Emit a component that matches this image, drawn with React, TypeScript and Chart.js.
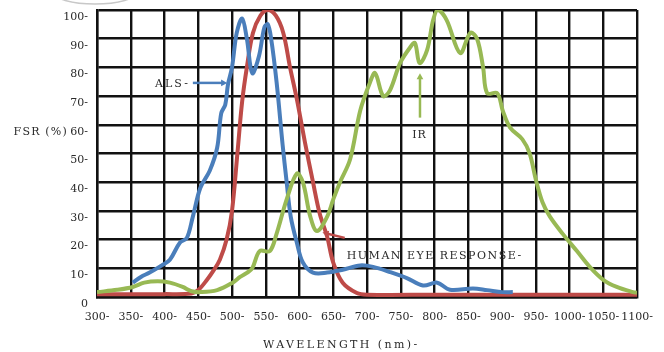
import React, { useEffect, useRef } from "react";
import { Chart, registerables } from "chart.js";

Chart.register(...registerables);

const xTickLabels = ["300-", "350-", "400-", "450-", "500-", "550-", "600-", "650-", "700-", "750-", "800-", "850-", "900-", "950-", "1000-", "1050-", "1100-"];
const yTickLabels = ["0", "10-", "20-", "30-", "40-", "50-", "60-", "70-", "80-", "90-", "100-"];

const alsWavelength = [353, 365, 378, 396, 408, 423, 433, 442, 453, 467, 478, 484, 490, 494, 500, 507, 515, 522, 530, 540, 548, 553, 558, 566, 575, 581, 587, 596, 605, 620, 641, 664, 690, 709, 734, 759, 783, 804, 823, 857, 878, 901, 916];
const alsValues = [5, 7, 8.5, 11, 13, 19, 20.5, 28, 38, 44, 52, 64, 67, 74, 80, 92, 97, 90, 78, 84, 94, 95, 90, 75, 53, 40, 28, 19, 12, 8.5, 8.5, 9.5, 11, 10.5, 8.7, 6.6, 4, 5, 2.5, 3, 2.4, 1.7, 1.7];

const eyeWavelength = [300, 350, 400, 440, 450, 463, 472, 482, 492, 500, 508, 515, 522, 531, 542, 553, 565, 576, 586, 596, 608, 620, 630, 641, 650, 664, 685, 700, 800, 900, 1000, 1100];
const eyeValues = [1, 1, 1, 1.2, 2.4, 6, 9, 13, 20, 30, 50, 68, 80, 92, 98, 100, 98, 92, 80, 69, 54, 40, 29, 21, 12, 5, 1.4, 0.8, 0.8, 0.8, 0.8, 0.8];

const irWavelength = [300, 330, 353, 370, 390, 408, 427, 440, 453, 478, 501, 512, 522, 530, 541, 556, 566, 581, 596, 605, 616, 626, 641, 650, 660, 675, 690, 704, 712, 724, 734, 749, 764, 771, 778, 789, 798, 805, 818, 838, 853, 863, 872, 878, 893, 901, 912, 930, 941, 950, 960, 971, 990, 1011, 1030, 1050, 1070, 1094, 1100];
const irValues = [1.7, 2.5, 3.5, 5, 5.5, 5, 3.5, 2, 1.7, 2.4, 5, 7, 8.4, 10, 16, 16, 22, 34, 43, 40, 28, 23, 28, 34, 40, 48, 65, 74.5, 78, 70, 72, 81.5, 87, 88.5, 81.5, 86, 96.5, 100, 96.5, 85, 92, 90, 80, 71, 71, 65, 59, 55, 50, 41, 33, 28, 22, 16, 10.5, 6, 3.5, 1.7, 1.5];

const FONT = "DejaVu Serif";
const TEXT = "#2a2a2a";

function toPoints(xs: number[], ys: number[]) {
  return xs.map((x, i) => ({ x, y: ys[i] }));
}

function arrow(ctx: CanvasRenderingContext2D, x1: number, y1: number, x2: number, y2: number, color: string) {
  const ang = Math.atan2(y2 - y1, x2 - x1);
  const head = 7;
  ctx.save();
  ctx.strokeStyle = color;
  ctx.fillStyle = color;
  ctx.lineWidth = 2.5;
  ctx.beginPath();
  ctx.moveTo(x1, y1);
  ctx.lineTo(x2 - Math.cos(ang) * head * 0.6, y2 - Math.sin(ang) * head * 0.6);
  ctx.stroke();
  ctx.beginPath();
  ctx.moveTo(x2, y2);
  ctx.lineTo(x2 - head * Math.cos(ang - 0.5), y2 - head * Math.sin(ang - 0.5));
  ctx.lineTo(x2 - head * Math.cos(ang + 0.5), y2 - head * Math.sin(ang + 0.5));
  ctx.closePath();
  ctx.fill();
  ctx.restore();
}

function text(ctx: CanvasRenderingContext2D, s: string, x: number, y: number, spacing: number, align: CanvasTextAlign = "left") {
  ctx.save();
  ctx.font = `11px "${FONT}"`;
  (ctx as any).letterSpacing = `${spacing}px`;
  ctx.fillStyle = TEXT;
  ctx.textAlign = align;
  ctx.textBaseline = "middle";
  ctx.fillText(s, x, y);
  ctx.restore();
}

const annotationPlugin = {
  id: "annotations",
  afterDraw(chart: any) {
    const ctx: CanvasRenderingContext2D = chart.ctx;
    const xs = chart.scales.x;
    const ys = chart.scales.y;
    const X = (v: number) => xs.getPixelForValue(v);
    const Y = (v: number) => ys.getPixelForValue(v);
    // faint rounded shape at top-left (scan artefact)
    ctx.save();
    ctx.strokeStyle = "#c8c8c8";
    ctx.lineWidth = 1.5;
    ctx.beginPath();
    ctx.ellipse(95, -8, 42, 12, 0, 0, Math.PI);
    ctx.stroke();
    ctx.restore();
    // ALS
    text(ctx, "ALS-", X(386), Y(74), 2);
    arrow(ctx, X(442), Y(74.6), X(493), Y(74.6), "#4a7ebb");
    // IR
    text(ctx, "IR", X(767), Y(56.4), 1);
    arrow(ctx, X(778.5), Y(62.5), X(778.5), Y(78), "#98b954");
    // Human eye response
    text(ctx, "HUMAN EYE RESPONSE-", X(670), Y(14.3), 1.5);
    arrow(ctx, X(667), Y(20.6), X(634), Y(22.5), "#be4b48");
    // axis titles
    text(ctx, "FSR (%)", xs.left - 29, Y(60) + 7, 1.2, "right");
    text(ctx, "WAVELENGTH (nm)-", X(546), 345, 2.4, "left");
  },
};

export default function App() {
  const ref = useRef<HTMLCanvasElement | null>(null);
  useEffect(() => {
    document.body.style.margin = "0";
    if (!ref.current) return;
    Chart.defaults.font.family = FONT;
    const lineDs = (label: string, xs: number[], ys: number[], color: string) => ({
      label,
      data: toPoints(xs, ys),
      borderColor: color,
      backgroundColor: color,
      borderWidth: 4,
      pointRadius: 0,
      tension: 0.35,
      fill: false,
    });
    const chart = new Chart(ref.current, {
      type: "line",
      data: {
        datasets: [
          lineDs("IR", irWavelength, irValues, "#98b954"),
          lineDs("ALS", alsWavelength, alsValues, "#4a7ebb"),
          lineDs("HUMAN EYE RESPONSE", eyeWavelength, eyeValues, "#be4b48"),
        ],
      },
      options: {
        animation: false,
        responsive: true,
        maintainAspectRatio: false,
        layout: { padding: { left: 0, top: 10, right: 27, bottom: 0 } },
        plugins: { legend: { display: false }, tooltip: { enabled: false } },
        scales: {
          x: {
            type: "linear",
            min: 300,
            max: 1100,
            afterFit: (s: any) => { s.height = 55; s.paddingLeft = 0; s.paddingRight = 0; },
            afterBuildTicks: (s: any) => {
              s.ticks = xTickLabels.map((_, i) => ({ value: 300 + i * 50 }));
            },
            ticks: {
              autoSkip: false,
              maxRotation: 0,
              minRotation: 0,
              padding: 14,
              color: TEXT,
              font: { family: FONT, size: 11 },
              callback: (_v: any, i: number) => xTickLabels[i],
            },
            grid: { color: "#111", lineWidth: 2.4, drawTicks: false },
            border: { color: "#111", width: 2.4 },
          },
          y: {
            min: 0,
            max: 100,
            afterFit: (s: any) => { s.width = 97; s.paddingTop = 0; s.paddingBottom = 0; },
            afterBuildTicks: (s: any) => {
              s.ticks = yTickLabels.map((_, i) => ({ value: i * 10 }));
            },
            ticks: {
              padding: 9,
              labelOffset: 7,
              color: TEXT,
              font: { family: FONT, size: 11 },
              callback: (_v: any, i: number) => yTickLabels[i],
            },
            grid: { color: "#111", lineWidth: 2.4, drawTicks: false },
            border: { color: "#111", width: 2.4 },
          },
        },
      },
      plugins: [annotationPlugin],
    });
    return () => chart.destroy();
  }, []);
  return (
    <div style={{ width: 664, height: 352, position: "relative", background: "#fff" }}>
      <canvas ref={ref} />
    </div>
  );
}
